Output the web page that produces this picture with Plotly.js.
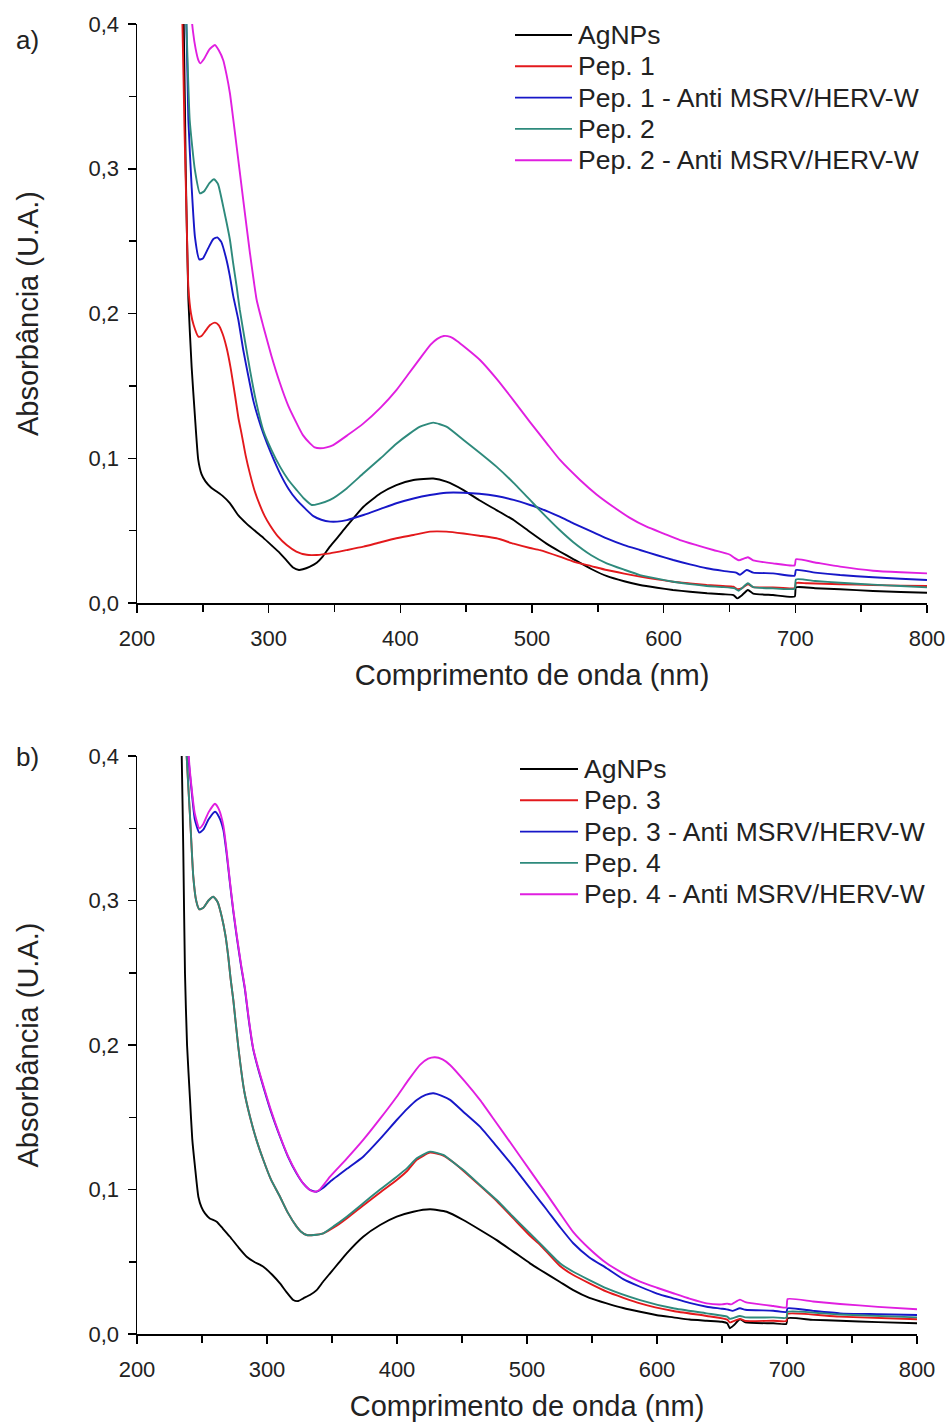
<!DOCTYPE html>
<html><head><meta charset="utf-8">
<script src="https://cdn.plot.ly/plotly-3.0.1.min.js"></script>
<style>html,body{margin:0;padding:0;background:#fff}#chart{width:951px;height:1423px}</style>
</head><body><div id="chart"></div>
<script>
// ---------- Panel a) ----------
const namesA = ["AgNPs", "Pep. 1", "Pep. 1 - Anti MSRV/HERV-W", "Pep. 2", "Pep. 2 - Anti MSRV/HERV-W"];
const namesB = ["AgNPs", "Pep. 3", "Pep. 3 - Anti MSRV/HERV-W", "Pep. 4", "Pep. 4 - Anti MSRV/HERV-W"];

const a_agnps_wl = [234,235.5,237,239,241.5,244,246.5,249,252,256,260.5,265,270.5,277,283,290,296,302,308.5,314,318.5,323,326,331,336.5,341,346.5,353,359,372,385,397,410,425,435,448,460,473,486,498.5,511,521,531,545,557,570,582,595,607,620,633,645,653,656,659,664,668,683,699.5,700.5,715,734,759,780,800];
const a_agnps_ab = [0.43,0.40,0.30,0.21,0.163,0.129,0.099,0.089,0.084,0.080,0.077,0.074,0.069,0.0605,0.055,0.0495,0.045,0.040,0.0345,0.029,0.0245,0.0228,0.0233,0.025,0.0278,0.032,0.039,0.046,0.0527,0.0665,0.0758,0.0815,0.085,0.086,0.0838,0.078,0.071,0.0642,0.0573,0.049,0.041,0.0356,0.0305,0.0235,0.0185,0.015,0.0124,0.0105,0.009,0.0078,0.0067,0.006,0.0055,0.0032,0.005,0.009,0.0065,0.0055,0.0044,0.0108,0.0102,0.0095,0.0083,0.0076,0.0071];

const a_pep1_wl = [233,234.5,236,237.7,239,241,243,246.6,249,252,255.5,259.2,262,265,268,271,274.4,277,279.5,282.5,285.8,289.5,293.4,297,301,307,313.7,321,328.9,336.5,346.6,359,372,385,397,410,422.5,435,448,460,473,486,498.5,506,521,531.4,545,556.7,570,582,595,607,620,632.7,645,653,656,660,664,668,683,699.5,700.5,709,734,759,780,800];
const a_pep1_ab = [0.43,0.40,0.33,0.265,0.2185,0.2,0.192,0.184,0.1845,0.188,0.192,0.1937,0.192,0.186,0.1765,0.163,0.1437,0.128,0.1165,0.102,0.0892,0.077,0.0674,0.06,0.0537,0.046,0.040,0.0355,0.0333,0.0332,0.0343,0.0365,0.0389,0.042,0.0447,0.047,0.0493,0.0493,0.048,0.0465,0.0447,0.041,0.038,0.0365,0.032,0.0286,0.0255,0.0228,0.0203,0.0182,0.0163,0.0147,0.0135,0.0124,0.0117,0.0113,0.0095,0.0105,0.013,0.011,0.0108,0.0103,0.0138,0.0136,0.013,0.0124,0.012,0.0117];

const a_pep1anti_wl = [235.5,237.5,239,241.5,244,247.3,250,254,258,261,264,268,270.5,273.1,277,280.7,284.5,288.3,292,296,302,308.6,315,321.3,328,334,340,346.6,352,359.3,372,385,397,410,422.5,435,448,460,473,486,498.5,506,521,531.4,545,556.7,570,582,595,607.3,620,632.7,645,655,658,663,668,683,699.5,700.5,715,734,759,780,800];
const a_pep1anti_ab = [0.43,0.40,0.334,0.2876,0.253,0.2374,0.238,0.245,0.2515,0.2526,0.2495,0.237,0.226,0.212,0.1955,0.1748,0.157,0.140,0.128,0.117,0.103,0.0896,0.079,0.0712,0.065,0.060,0.0575,0.0562,0.0562,0.0573,0.0608,0.065,0.0689,0.0722,0.0746,0.0762,0.0762,0.0755,0.0739,0.0712,0.0677,0.0654,0.0596,0.055,0.0495,0.0447,0.040,0.0366,0.033,0.0297,0.0267,0.024,0.0222,0.021,0.0195,0.0228,0.021,0.0205,0.0189,0.0228,0.021,0.0193,0.0178,0.0168,0.0159];

const a_pep2_wl = [235.5,237.5,240,244,247.8,251,255,258.5,261.5,265.5,268,270.6,273,275.7,278,282,286,290,296,302,308.6,315,321.3,327,332.7,338,346.6,359,372,385,397,407,415,425,435,448,460,473,486,498.5,506,521,531.4,545,556.7,570,582,595,607.3,620,632.7,645,654,657,664,668,683,699.5,700.5,715,734,759,780,800];
const a_pep2_ab = [0.43,0.40,0.334,0.299,0.283,0.2845,0.29,0.2927,0.2895,0.2738,0.263,0.2508,0.235,0.2185,0.203,0.181,0.160,0.141,0.119,0.106,0.0942,0.085,0.078,0.072,0.0677,0.0685,0.0712,0.079,0.0896,0.100,0.110,0.117,0.1218,0.1246,0.1218,0.1126,0.104,0.0942,0.083,0.0712,0.064,0.0504,0.042,0.033,0.0274,0.023,0.0193,0.0168,0.0147,0.013,0.0117,0.011,0.0101,0.0085,0.0136,0.011,0.0101,0.0099,0.0163,0.0152,0.014,0.0127,0.0117,0.0108];

const a_pep2anti_wl = [240,241,242.5,244.5,246.6,248,251,255,259.2,262,265.5,268,270.6,273,275.7,280.7,285.8,290.9,296,302,308.6,315,321.3,326,331.4,335,339,344,349,360,372,385,397,406,415,423,428,433,438,443,450,460.5,473,485.8,498.5,511.2,521.3,536.5,549,561.7,574,587,600,612.4,625,637.7,650,654,657,664,668,683,699.5,700.5,715,734,759,780,800];
const a_pep2anti_ab = [0.43,0.41,0.395,0.383,0.375,0.3728,0.376,0.3825,0.3855,0.382,0.375,0.365,0.352,0.335,0.3152,0.2784,0.2416,0.2093,0.1909,0.171,0.1518,0.136,0.1241,0.116,0.1103,0.1075,0.1069,0.1075,0.1091,0.116,0.1241,0.135,0.1471,0.158,0.169,0.1785,0.1825,0.1845,0.1838,0.181,0.176,0.1679,0.155,0.1402,0.125,0.1103,0.0988,0.085,0.075,0.0665,0.059,0.0527,0.048,0.0435,0.040,0.0366,0.0335,0.031,0.0295,0.0316,0.0295,0.0274,0.026,0.0302,0.028,0.0251,0.0223,0.0212,0.0205];

// ---------- Panel b) ----------
const b_agnps_wl = [233.5,234.4,235.6,236.9,238.5,240.8,242.5,244.6,247.2,249.5,252.3,256,261.3,266,271.5,278,284.4,290,297.2,304,310,315,320.2,324,328,333,338.2,343,348.5,355,361.3,374,387,399.8,412.5,425.4,438.2,451,464,476.7,489.5,502.3,510,525.4,535.6,548,561.3,574,587,600,612.5,625,638.2,650,654,656,659,663.8,668,689.5,699.5,700.5,720,740.8,770,800];
const b_agnps_ab = [0.43,0.40,0.335,0.25,0.20,0.162,0.135,0.1158,0.095,0.088,0.0835,0.080,0.0777,0.073,0.0673,0.060,0.0535,0.050,0.0466,0.041,0.035,0.029,0.0235,0.0228,0.0247,0.027,0.0304,0.036,0.042,0.049,0.0558,0.0673,0.0754,0.0812,0.0846,0.0863,0.0846,0.0789,0.072,0.065,0.057,0.0489,0.0445,0.036,0.0304,0.025,0.0212,0.018,0.0154,0.013,0.0115,0.010,0.0092,0.0085,0.0075,0.004,0.006,0.0102,0.008,0.0074,0.007,0.0109,0.0098,0.0092,0.0082,0.0074];

const b_pep3_wl = [237.5,238.2,240.8,243.3,245.5,247.9,251,255,258.7,262,265.2,268,270.2,272,274.1,277.9,282.5,286.9,292,297.2,303,310,316,322.8,326,330.5,336,343.3,352,361.3,374,387,399.8,408,415.2,425.4,435.6,443,451,464,476.7,489.5,502.3,510,525.4,535.6,561.3,587,612.5,638.2,654,656,663.8,668,689.5,699.5,700.5,740,800];
const b_pep3_ab = [0.43,0.40,0.358,0.3165,0.30,0.2939,0.295,0.30,0.3026,0.299,0.2888,0.276,0.2611,0.246,0.231,0.1988,0.168,0.1504,0.134,0.1204,0.107,0.095,0.084,0.0743,0.071,0.0685,0.0685,0.0697,0.074,0.080,0.089,0.098,0.1066,0.113,0.1205,0.1255,0.1235,0.119,0.113,0.1025,0.092,0.080,0.068,0.0618,0.047,0.0408,0.0293,0.0212,0.0159,0.0125,0.010,0.008,0.0105,0.009,0.0092,0.009,0.014,0.012,0.0102];

const b_pep3anti_wl = [238.5,239.5,242,244.5,247.9,251,255,260,263,266.4,269,271.5,274,276.7,280,283.1,286,289.3,293,297.2,303,310,316,322.8,328,333,338.2,343,348.5,361,374,387,399.8,408,415.2,422,428,434,440.8,452,463.8,476.5,489.5,502,510,515.2,525.4,535.6,548,561.3,574,587,600,612.5,625,638.2,650,655,658,663.8,668,689.5,699.5,700.5,720,740.8,770,800];
const b_pep3anti_ab = [0.43,0.40,0.376,0.356,0.347,0.349,0.356,0.3614,0.358,0.349,0.332,0.312,0.293,0.275,0.255,0.238,0.217,0.1975,0.184,0.171,0.154,0.1365,0.123,0.111,0.104,0.0997,0.0985,0.101,0.1054,0.114,0.1227,0.135,0.1481,0.156,0.162,0.1655,0.1666,0.165,0.162,0.153,0.1435,0.130,0.1158,0.1013,0.092,0.086,0.074,0.0628,0.053,0.0455,0.038,0.0327,0.028,0.0247,0.0215,0.0189,0.0175,0.0168,0.016,0.0178,0.0168,0.0161,0.0152,0.0178,0.016,0.0143,0.0137,0.0131];

const b_pep4_wl = [237.5,238.2,240.8,243.3,245.5,247.9,251,255,258.7,262,265.2,268,270.2,272,274.1,277.9,282.5,286.9,292,297.2,303,310,316,322.8,326,330.5,336,343.3,352,361.3,374,387,399.8,408,415.2,425.4,435.6,443,451,464,476.7,489.5,502.3,510,525.4,535.6,561.3,587,612.5,638.2,654,656,663.8,668,689.5,699.5,700.5,740,800];
const b_pep4_ab = [0.43,0.40,0.358,0.3165,0.30,0.2939,0.295,0.30,0.3026,0.299,0.2888,0.276,0.2611,0.246,0.231,0.1988,0.168,0.1504,0.134,0.1204,0.107,0.095,0.084,0.0743,0.071,0.0685,0.0685,0.0697,0.075,0.0812,0.0905,0.100,0.1089,0.115,0.1216,0.1262,0.1239,0.119,0.1135,0.103,0.0927,0.081,0.0696,0.0627,0.0489,0.0431,0.0316,0.0235,0.0178,0.0143,0.012,0.0105,0.0125,0.0115,0.0115,0.0112,0.0154,0.0135,0.0115];

const b_pep4anti_wl = [239,239.8,242,244.5,247.9,251,255,260,263,266.4,269,271.5,274,276.7,280,283.1,286,289.3,293,297.2,303,310,316,322.8,328,333,336,340,348.5,361,374,387,399.8,409,417.7,424,429.2,435,440.8,452,463.8,476.5,489.5,502,510,515.2,525.4,535.6,548,561.3,574,587,600,612.5,625,638.2,650,654,657,663.8,668,689.5,699.5,700.5,720,740.8,770,800];
const b_pep4anti_ab = [0.43,0.40,0.378,0.36,0.350,0.353,0.361,0.367,0.363,0.352,0.334,0.313,0.294,0.276,0.256,0.239,0.218,0.198,0.185,0.172,0.155,0.137,0.1235,0.1115,0.104,0.0997,0.0985,0.0995,0.1089,0.121,0.1343,0.149,0.1642,0.176,0.1862,0.1905,0.1915,0.19,0.1862,0.175,0.162,0.146,0.1296,0.1136,0.1034,0.0968,0.0835,0.0705,0.059,0.0489,0.042,0.0362,0.032,0.0282,0.0245,0.0212,0.0205,0.021,0.0205,0.0238,0.022,0.0194,0.0184,0.0242,0.0225,0.0208,0.0188,0.0171];

const xTickVals = [200, 300, 400, 500, 600, 700, 800];
const yTickVals = [0, 0.1, 0.2, 0.3, 0.4];
const xTitle = "Comprimento de onda (nm)";
const yTitle = "Absorbância (U.A.)";
const panelLabels = ["a)", "b)"];

// ---------- styling ----------
const colors = ["#000000", "#e3191c", "#1717c8", "#2e8a7c", "#e01fe0"];
const FONT = "Liberation Sans, Arial, Helvetica, sans-serif";

const seriesA = [[a_agnps_wl, a_agnps_ab], [a_pep1_wl, a_pep1_ab], [a_pep1anti_wl, a_pep1anti_ab], [a_pep2_wl, a_pep2_ab], [a_pep2anti_wl, a_pep2anti_ab]];
const seriesB = [[b_agnps_wl, b_agnps_ab], [b_pep3_wl, b_pep3_ab], [b_pep3anti_wl, b_pep3anti_ab], [b_pep4_wl, b_pep4_ab], [b_pep4anti_wl, b_pep4anti_ab]];

const traces = [];
seriesA.forEach((s, i) => traces.push({x: s[0], y: s[1], name: namesA[i], type: "scatter", mode: "lines",
  line: {color: colors[i], width: 1.9, shape: "spline", smoothing: 0.5}, xaxis: "x", yaxis: "y", showlegend: false}));
seriesB.forEach((s, i) => traces.push({x: s[0], y: s[1], name: namesB[i], type: "scatter", mode: "lines",
  line: {color: colors[i], width: 1.9, shape: "spline", smoothing: 0.5}, xaxis: "x2", yaxis: "y2", showlegend: false}));

// pixel geometry -> paper coords
const W = 951, H = 1423, ML = 137, MR = 24, MT = 24, MB = 89;
const PW = W - ML - MR, PH = H - MT - MB;
const px = v => (v - ML) / PW;
const py = v => (H - MB - v) / PH;

function xaxis(domainEnd, anchor) {
  return {domain: [0, domainEnd], anchor: anchor, range: [200, 800], tickvals: xTickVals,
    ticks: "outside", ticklen: 8, tickwidth: 1.5, tickcolor: "#000",
    minor: {dtick: 50, ticks: "outside", ticklen: 7, tickwidth: 1.5, tickcolor: "#000"},
    showline: true, linecolor: "#000", linewidth: 1.5, showgrid: false, zeroline: false,
    tickfont: {family: FONT, size: 22, color: "#222"}, ticklabelstandoff: 7,
    title: {text: xTitle, font: {family: FONT, size: 29, color: "#222"}, standoff: 15}};
}
function yaxis(domain, anchor) {
  return {domain: domain, anchor: anchor, range: [0, 0.4], tickvals: yTickVals, tickformat: ".1f",
    ticks: "outside", ticklen: 8, tickwidth: 1.5, tickcolor: "#000",
    minor: {dtick: 0.05, ticks: "outside", ticklen: 7, tickwidth: 1.5, tickcolor: "#000"},
    showline: true, linecolor: "#000", linewidth: 1.5, showgrid: false, zeroline: false,
    tickfont: {family: FONT, size: 22, color: "#222"}, ticklabelstandoff: 4,
    title: {text: yTitle, font: {family: FONT, size: 29, color: "#222"}, standoff: 41}};
}

const shapes = [], annotations = [];
function legend(names, lineX0, lineX1, textX, rowY0, rowStep) {
  names.forEach((n, i) => {
    const yy = py(rowY0 + i * rowStep);
    shapes.push({type: "line", xref: "paper", yref: "paper", x0: px(lineX0), x1: px(lineX1), y0: yy, y1: yy,
      line: {color: colors[i], width: 1.9}});
    annotations.push({xref: "paper", yref: "paper", x: px(textX), y: yy, xanchor: "left", yanchor: "middle",
      text: n, showarrow: false, font: {family: FONT, size: 26.5, color: "#222"}});
  });
}
legend(namesA, 515, 572, 576, 35, 31.3);
legend(namesB, 520, 578, 582, 769, 31.3);

annotations.push({xref: "paper", yref: "paper", x: px(28), y: py(40), xanchor: "center", yanchor: "middle",
  text: panelLabels[0], showarrow: false, font: {family: FONT, size: 26, color: "#222"}});
annotations.push({xref: "paper", yref: "paper", x: px(28), y: py(757), xanchor: "center", yanchor: "middle",
  text: panelLabels[1], showarrow: false, font: {family: FONT, size: 26, color: "#222"}});

const layout = {
  width: W, height: H, margin: {l: ML, r: MR, t: MT, b: MB},
  paper_bgcolor: "#fff", plot_bgcolor: "#fff", separators: ",.",
  showlegend: false,
  xaxis: xaxis(1, "y"), yaxis: yaxis([py(603), 1], "x"),
  xaxis2: xaxis(px(917), "y2"), yaxis2: yaxis([0, py(756)], "x2"),
  shapes: shapes, annotations: annotations
};

Plotly.newPlot("chart", traces, layout, {staticPlot: true});
</script></body></html>
